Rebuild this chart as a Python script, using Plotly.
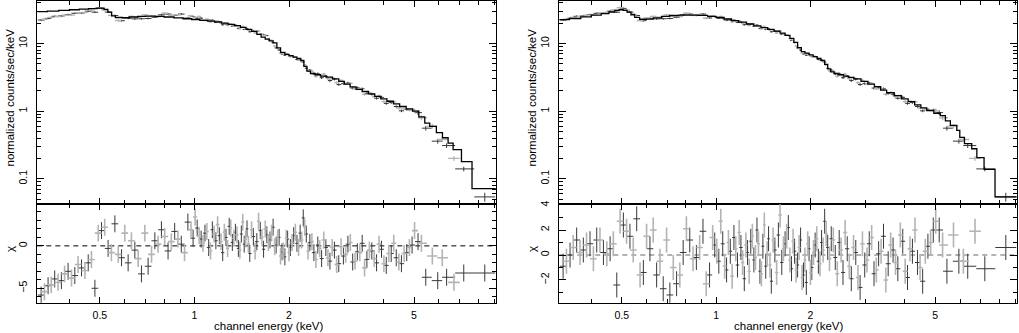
import numpy as np
import plotly.graph_objects as go

# ---- shared spectrum (two data groups: black and grey) ----
black_e = [0.325, 0.342, 0.359, 0.377, 0.396, 0.416, 0.437, 0.459, 0.482, 0.506, 0.531, 0.558,
           0.586, 0.615, 0.646, 0.678, 0.712, 0.748, 0.785, 0.824, 0.865, 0.908, 0.953, 0.99,
           1.02, 1.05, 1.08, 1.11, 1.14, 1.17, 1.20, 1.23, 1.26, 1.29, 1.32, 1.35, 1.38, 1.41,
           1.44, 1.47, 1.50, 1.54, 1.58, 1.62, 1.66, 1.70, 1.74, 1.78, 1.82, 1.86, 1.90, 1.94,
           1.98, 2.02, 2.07, 2.12, 2.17, 2.22, 2.27,
           2.33, 2.40, 2.47, 2.54, 2.62, 2.70, 2.79, 2.88, 2.98, 3.08, 3.19, 3.30, 3.42, 3.54,
           3.67, 3.80, 3.94, 4.08, 4.23, 4.39, 4.56, 4.74, 4.93,
           5.15, 5.45, 5.95, 6.35, 7.2, 8.4]
black_rate = [22.2, 23.5, 25.2, 25.5, 26.7, 27.9, 28.2, 30.0, 29.0, 33.0, 29.1, 25.9,
              21.7, 23.5, 23.1, 23.2, 23.4, 24.4, 26.5, 27.2, 26.0, 27.2, 23.8, 25.0,
              23.6, 23.7, 21.9, 22.2, 22.1, 20.5, 20.7, 18.9, 19.4, 19.2, 18.0, 18.7, 16.7, 17.3,
              16.1, 16.6, 14.9, 15.2, 15.1, 13.7, 13.5, 13.1, 11.1, 10.3, 8.6, 8.0, 7.0, 6.7,
              6.9, 6.4, 6.4, 5.8, 5.7, 5.3, 4.3,
              4.02, 3.57, 3.57, 3.12, 3.27, 2.83, 2.98, 2.47, 2.55, 2.60, 2.19, 2.21, 2.14, 1.82,
              1.78, 1.55, 1.60, 1.30, 1.34, 1.17, 1.01, 1.06, 1.04,
              0.95, 0.56, 0.36, 0.31, 0.14, 0.054]

grey_e = [0.333, 0.350, 0.368, 0.386, 0.406, 0.426, 0.448, 0.470, 0.494, 0.518, 0.544, 0.572,
          0.600, 0.630, 0.662, 0.695, 0.730, 0.766, 0.804, 0.844, 0.886, 0.930, 0.975,
          1.005, 1.035, 1.065, 1.095, 1.125, 1.155, 1.185, 1.215, 1.245, 1.275, 1.305, 1.335,
          1.365, 1.395, 1.425, 1.455, 1.485, 1.52, 1.56, 1.60, 1.64, 1.68, 1.72, 1.76, 1.80,
          1.84, 1.88, 1.92, 1.96, 2.00, 2.045, 2.095, 2.145, 2.195, 2.245,
          2.30, 2.365, 2.435, 2.505, 2.58, 2.66, 2.745, 2.835, 2.93, 3.03, 3.135, 3.245, 3.36,
          3.48, 3.605, 3.735, 3.87, 4.01, 4.155, 4.31, 4.475, 4.65, 4.835, 5.02,
          5.28, 5.72, 6.15, 6.7]
grey_rate = [22.8, 24.3, 24.9, 26.2, 26.2, 28.4, 28.8, 31.2, 33.8, 31.2, 26.0, 21.9,
             23.8, 25.1, 24.4, 26.5, 25.3, 25.0, 28.0, 26.1, 26.5, 23.6, 25.7,
             24.4, 25.1, 22.4, 22.9, 20.8, 21.5, 21.5, 19.8, 19.9, 18.4, 19.2, 17.9,
             18.0, 16.5, 17.8, 16.3, 15.6, 15.9, 14.3, 15.3, 13.8, 13.3, 11.8, 11.1, 9.2,
             8.4, 7.2, 7.1, 7.1, 6.5, 6.5, 6.3, 5.65, 5.35, 4.8,
             3.95, 3.90, 3.26, 3.43, 3.52, 3.02, 3.10, 2.64, 2.83, 2.52, 2.57, 2.15, 2.13,
             1.77, 1.88, 1.64, 1.68, 1.38, 1.40, 1.37, 1.11, 1.08, 1.03, 1.01,
             0.80, 0.60, 0.38, 0.20]

# fractional 1-sigma error of the rate, by energy band
err_band_edges = [1.0, 2.3, 5.0, 7.5]
err_band_frac = [0.03, 0.025, 0.045, 0.08, 0.15]

# ---- fitted models (folded, step per bin) ----
left_model_e = [0.316, 0.34, 0.37, 0.40, 0.43, 0.46, 0.49, 0.515, 0.53, 0.545, 0.56, 0.59, 0.62,
                0.66, 0.70, 0.75, 0.80, 0.86, 0.92, 0.98, 1.04, 1.10, 1.16, 1.22, 1.28, 1.34,
                1.40, 1.46, 1.52, 1.58, 1.63, 1.68, 1.73, 1.78, 1.83, 1.88, 1.94, 2.00, 2.06,
                2.12, 2.18, 2.23, 2.28, 2.34, 2.42, 2.52, 2.63, 2.75, 2.88, 3.0, 3.13, 3.27,
                3.42, 3.58, 3.75, 3.92, 4.1, 4.3, 4.5, 4.72, 4.95, 5.18, 5.41, 5.61, 5.89, 6.16,
                6.42, 6.66, 7.08, 7.65, 9.15]
left_model = [29.5, 30.0, 30.8, 31.5, 32.2, 32.8, 33.2, 32.0, 29.0, 25.5, 24.2, 24.0, 24.6,
              25.1, 25.3, 25.1, 24.6, 23.9, 23.2, 22.6, 22.0, 21.4, 20.8, 20.0, 19.2, 18.4,
              17.3, 16.2, 15.1, 13.6, 12.4, 11.6, 10.9, 10.2, 8.6, 7.4, 6.9, 6.6, 6.3,
              6.0, 5.6, 4.6, 3.9, 3.6, 3.45, 3.3, 3.18, 3.0, 2.75, 2.5, 2.28, 2.1,
              1.95, 1.8, 1.65, 1.52, 1.4, 1.28, 1.17, 1.08, 1.0, 0.82, 0.665, 0.594, 0.48, 0.404,
              0.337, 0.269, 0.179, 0.0714, 0.0714]

right_model_e = [0.316, 0.34, 0.37, 0.40, 0.43, 0.455, 0.475, 0.49, 0.505, 0.52, 0.535, 0.55,
                 0.57, 0.60, 0.63, 0.67, 0.71, 0.76, 0.82, 0.88, 0.94, 1.00, 1.06, 1.12, 1.18,
                 1.25, 1.32, 1.39, 1.46, 1.53, 1.60, 1.66, 1.72, 1.77, 1.82, 1.87, 1.92, 1.98,
                 2.04, 2.10, 2.16, 2.22, 2.27, 2.32, 2.38, 2.45, 2.55, 2.65, 2.75, 2.9, 3.05,
                 3.2, 3.35, 3.5, 3.7, 3.9, 4.1, 4.3, 4.5, 4.7, 4.95, 5.19, 5.39, 5.59, 5.86,
                 5.99, 6.2, 6.54, 6.79, 7.16, 7.76, 9.15]
right_model = [22.5, 23.4, 24.8, 26.2, 27.6, 29.2, 30.8, 31.5, 30.8, 29.0, 26.8, 24.3,
               22.8, 22.9, 23.9, 25.1, 25.9, 26.3, 26.3, 26.0, 25.2, 24.2, 23.0, 21.8, 20.7,
               19.4, 18.2, 17.2, 16.2, 15.2, 14.2, 13.2, 11.9, 10.4, 8.7, 7.6, 7.2, 6.8,
               6.4, 6.0, 5.6, 4.9, 4.2, 3.8, 3.6, 3.45, 3.3, 3.15, 3.0, 2.75, 2.5,
               2.3, 2.05, 1.88, 1.7, 1.52, 1.38, 1.24, 1.12, 1.02, 0.93, 0.86, 0.72, 0.615, 0.52,
               0.41, 0.33, 0.278, 0.205, 0.138, 0.054, 0.054]

# ---- residuals (chi) for each fit ----
black_chi_left = [-5.8, -4.7, -3.9, -4.1, -3.0, -3.5, -2.6, -2.0, -5.0, 1.8, -0.3, 2.6,
                  -1.4, -2.0, -0.5, -3.3, -2.4, 0.6, 1.9, -0.6, 1.7, 0.2, 2.8, 0.9,
                  2.1, 0.8, 1.5, -0.2, 1.9, 0.6, 1.2, -0.8, 1.0, 2.3, 0.4, 1.6, -0.3, 1.4,
                  0.2, 2.0, -0.9, 1.1, 0.5, 1.8, -0.4, 1.3, 0.7, 2.2, 0.1, 1.0, -0.7, -1.3,
                  0.8, -0.2, 1.2, 0.3, 1.5, 3.3, 1.4,
                  0.4, -0.8, 0.1, -1.5, -0.2, -1.8, -0.5, -2.1, -1.2, 0.2, -1.9, -0.7, 0.3, -1.6,
                  -0.6, -2.0, -0.4, -2.3, -0.9, -1.4, -2.1, -0.8, 0.1,
                  0.5, -3.7, -4.1, -3.7, -3.2, -3.2]
grey_chi_left = [-5.4, -4.6, -4.3, -3.3, -3.8, -2.2, -2.9, -1.6, 1.5, 2.2, -0.8, -1.0,
                 1.5, 0.6, -1.5, 1.5, -1.0, 0.2, 1.1, 0.5, 0.8, -0.8, 1.9,
                 3.4, 1.2, 0.3, 1.7, -0.6, 1.4, 2.5, 0.5, 1.6, -0.3, 2.1, 0.9,
                 1.3, -0.5, 2.8, 0.8, 0.2, 1.9, -0.6, 2.9, 1.0, 2.0, 0.4, 1.5, -0.1,
                 0.9, -1.2, -0.6, 0.9, -0.8, 0.4, 1.6, -0.2, 0.7, 2.2,
                 -0.6, 0.5, -1.6, -0.3, 0.7, -1.4, -0.2, -2.2, -0.1, -1.0, 0.4, -1.8, -0.8,
                 -2.6, -0.5, -1.5, 0.2, -2.1, -0.9, 0.3, -1.9, -0.9, -0.2, 1.8,
                 0.3, -1.2, -1.4, -4.3]
black_chi_right = [-0.9, 0.0, 1.2, 0.4, 0.9, 1.2, 0.2, 0.5, -2.4, 2.4, 1.5, 2.9,
                   -1.4, 0.5, -1.6, -2.7, -3.2, -2.3, 0.2, 1.2, -0.2, 1.9, -1.6, 0.8,
                   -0.5, 0.9, -1.2, 0.3, 1.4, -0.8, 0.6, -1.9, 0.2, 1.1, -0.4, 2.0, -1.3, 0.7,
                   -0.9, 1.3, -2.1, 0.4, 1.6, -0.6, 0.9, 2.2, -1.1, 0.3, -0.8, 1.2, -1.6, -2.2,
                   0.5, -1.0, 0.8, -0.5, 1.0, 2.7, 0.6,
                   1.3, -0.2, 1.0, -1.4, 0.5, -1.9, 0.2, -2.6, -0.8, 0.9, -1.5, 0.1, 1.5, -0.7,
                   0.4, -1.1, 1.1, -1.8, 0.3, -0.6, -2.1, 0.7, 2.0,
                   2.0, -1.3, -0.5, -0.9, -1.1, 0.6]
grey_chi_right = [-0.5, 0.6, 0.2, 0.8, -0.3, 1.2, 0.1, 0.9, 2.7, 1.9, 0.4, -1.6,
                  1.5, 2.0, -0.5, 1.2, -1.0, -1.6, 2.1, -0.3, 0.6, -2.3, 1.4,
                  0.3, 2.7, -0.9, 1.0, -1.7, 0.5, 1.8, -0.6, 0.8, -1.3, 1.5, -0.2,
                  0.9, -1.5, 2.4, 0.1, -0.8, 1.2, -1.4, 3.2, 0.5, 1.5, -0.4, 1.1, -1.2,
                  0.6, -1.8, -0.4, 0.9, -1.4, 0.2, 1.3, -0.7, 0.4, 1.7,
                  -0.3, 1.2, -1.5, 0.4, 1.8, -0.9, 0.6, -1.8, 0.9, -0.4, 1.4, -1.2, 0.3,
                  -2.0, 0.8, -0.6, 1.6, -1.3, 0.5, 2.0, -1.0, 0.3, 1.0, 2.7,
                  0.8, 1.6, -0.5, 1.9]

BLACK = "#383838"
GREY = "#b4b4b4"
FONT = "Liberation Sans, Arial, sans-serif"
W, H = 1019, 333


def bin_widths(e):
    """half widths of each channel bin, edges at geometric midpoints"""
    e = np.asarray(e, dtype=float)
    mid = np.sqrt(e[1:] * e[:-1])
    lo = np.concatenate([[e[0] ** 2 / mid[0]], mid])
    hi = np.concatenate([mid, [e[-1] ** 2 / mid[-1]]])
    return e - lo, hi - e


def rel_err(e):
    return np.array(err_band_frac)[np.digitize(e, err_band_edges)]


def data_trace(e, y, yerr, color, width, xa, ya):
    xm, xp = bin_widths(e)
    return go.Scatter(
        x=e, y=y, mode="markers", marker=dict(size=1, opacity=0, color=color),
        error_x=dict(type="data", symmetric=False, array=xp, arrayminus=xm,
                     width=0, thickness=width, color=color),
        error_y=dict(type="data", array=yerr, width=0, thickness=width, color=color),
        xaxis=xa, yaxis=ya, showlegend=False, hoverinfo="skip")


fig = go.Figure()

panels = [
    dict(me=left_model_e, m=left_model, cb=black_chi_left, cg=grey_chi_left,
         top=("x", "y"), res=("x2", "y2"), zero="black", zw=1),
    dict(me=right_model_e, m=right_model, cb=black_chi_right, cg=grey_chi_right,
         top=("x3", "y3"), res=("x4", "y4"), zero="#9a9a9a", zw=1.6),
]

b_err = np.array(black_rate) * rel_err(black_e)
g_err = np.array(grey_rate) * rel_err(grey_e)

for p in panels:
    fig.add_trace(data_trace(black_e, black_rate, b_err, BLACK, 1, *p["top"]))
    fig.add_trace(data_trace(grey_e, grey_rate, g_err, GREY, 1.4, *p["top"]))
    fig.add_trace(go.Scatter(x=p["me"], y=p["m"], mode="lines", line=dict(color="black", width=1.3, shape="hv"),
                             xaxis=p["top"][0], yaxis=p["top"][1], showlegend=False, hoverinfo="skip"))
    fig.add_trace(data_trace(black_e, p["cb"], np.ones(len(black_e)), BLACK, 1, *p["res"]))
    fig.add_trace(data_trace(grey_e, p["cg"], np.ones(len(grey_e)), GREY, 1.6, *p["res"]))
    fig.add_shape(type="line", xref=p["res"][0] + " domain", yref=p["res"][1], x0=0, x1=1, y0=0, y1=0,
                  line=dict(color=p["zero"], width=p["zw"], dash="5px,4px"), layer="below")

axis_style = dict(showline=True, linecolor="black", linewidth=1, mirror="allticks", ticks="inside",
                  tickcolor="black", tickwidth=1, showgrid=False, zeroline=False, automargin=False,
                  tickfont=dict(family=FONT, size=10.5, color="black"))

xr = [np.log10(0.316), np.log10(9.1)]
x_minor = [0.4, 0.6, 0.7, 0.8, 0.9, 3, 4, 6, 7, 8, 9]
y_minor = [0.05, 0.06, 0.07, 0.08, 0.09, 0.2, 0.3, 0.4, 0.5, 0.6, 0.7, 0.8, 0.9,
           2, 3, 4, 5, 6, 7, 8, 9, 20, 30, 40]

xdom = [[37.3 / W, 495.7 / W], [559.3 / W, 1016.7 / W]]
ytop = [(H - 204.3) / H, (H - 0.5) / H]
yres = [(H - 302.7) / H, (H - 204.3) / H]


def xaxis(dom, anchor, labels):
    return dict(axis_style, type="log", range=xr, domain=dom, anchor=anchor,
                tickmode="array", tickvals=[0.5, 1, 2, 5], ticktext=["0.5", "1", "2", "5"],
                showticklabels=labels, ticklen=6, ticklabelstandoff=3,
                minor=dict(tickmode="array", tickvals=x_minor, ticks="inside", ticklen=4, tickcolor="black"))


def ytop_axis(anchor):
    return dict(axis_style, type="log", range=[-1.377, 1.635], domain=ytop, anchor=anchor,
                tickmode="array", tickvals=[0.1, 1, 10], ticktext=["0.1", "1", "10"],
                tickangle=-90, ticklen=7, ticklabelstandoff=5,
                minor=dict(tickmode="array", tickvals=y_minor, ticks="inside", ticklen=4, tickcolor="black"))


def yres_axis(anchor, rng, vals):
    return dict(axis_style, range=rng, domain=yres, anchor=anchor,
                tickmode="array", tickvals=vals, ticktext=[str(v).replace("-", "\u2212") for v in vals],
                tickangle=-90, ticklen=7, ticklabelstandoff=5,
                minor=dict(dtick=1, ticks="inside", ticklen=4, tickcolor="black"))


fig.update_layout(
    template="none",
    width=W, height=H, margin=dict(l=0, r=0, t=0, b=0, pad=0),
    paper_bgcolor="white", plot_bgcolor="white", showlegend=False,
    xaxis=xaxis(xdom[0], "y", False),
    yaxis=ytop_axis("x"),
    xaxis2=xaxis(xdom[0], "y2", True),
    yaxis2=yres_axis("x2", [-6.7, 4.9], [-5, 0]),
    xaxis3=xaxis(xdom[1], "y3", False),
    yaxis3=ytop_axis("x3"),
    xaxis4=xaxis(xdom[1], "y4", True),
    yaxis4=yres_axis("x4", [-3.82, 4.06], [-2, 0, 2, 4]),
)

label_font = dict(family=FONT, size=11.5, color="black")
for x0, xc in [(9.5, 268), (531.5, 788)]:
    fig.add_annotation(x=x0 / W, y=(H - 98) / H, xref="paper", yref="paper", text="normalized counts/sec/keV",
                       textangle=-90, showarrow=False, font=label_font, xanchor="center", yanchor="middle")
    fig.add_annotation(x=(x0 + 0.5) / W, y=(H - 249) / H, xref="paper", yref="paper", text="\u03c7",
                       textangle=-90, showarrow=False, font=label_font, xanchor="center", yanchor="middle")
    fig.add_annotation(x=xc / W, y=(H - 326) / H, xref="paper", yref="paper", text="channel energy (keV)",
                       showarrow=False, font=label_font, xanchor="center", yanchor="middle")

# page body has a default 8px margin; drop it so the figure fills the window
fig.write_html("out.html", config={"displayModeBar": False},
               post_script="document.body.style.margin='0';")
